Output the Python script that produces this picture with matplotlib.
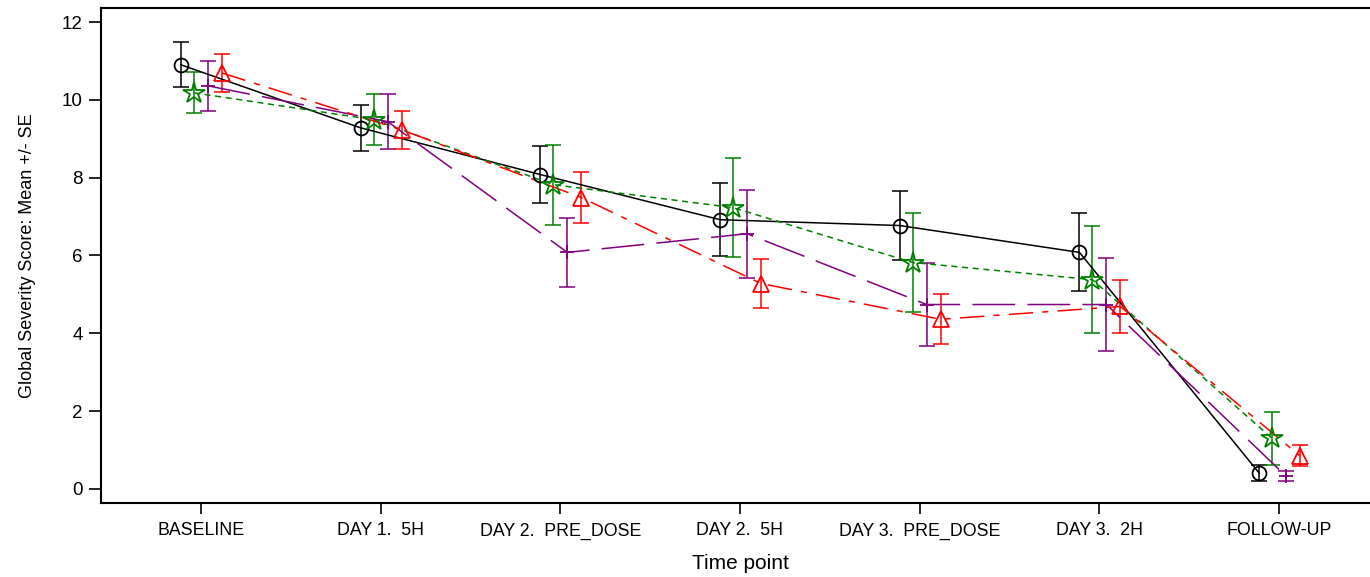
import numpy as np
import matplotlib as mpl
mpl.use('Agg')
import matplotlib.pyplot as plt

plt.rcParams['font.family'] = ['Liberation Sans', 'DejaVu Sans']

timepoints = ["BASELINE", "DAY 1.  5H", "DAY 2.  PRE_DOSE", "DAY 2.  5H",
              "DAY 3.  PRE_DOSE", "DAY 3.  2H", "FOLLOW-UP"]

# group means and standard errors
black_mean = [10.90, 9.28, 8.08, 6.92, 6.77, 6.08, 0.41]
black_se = [0.58, 0.60, 0.73, 0.94, 0.88, 1.00, 0.20]

green_mean = [10.18, 9.49, 7.82, 7.23, 5.82, 5.38, 1.30]
green_se = [0.53, 0.66, 1.03, 1.28, 1.28, 1.37, 0.68]

purple_mean = [10.36, 9.44, 6.08, 6.56, 4.74, 4.74, 0.33]
purple_se = [0.64, 0.70, 0.89, 1.13, 1.07, 1.20, 0.13]

red_mean = [10.69, 9.23, 7.49, 5.28, 4.36, 4.69, 0.85]
red_se = [0.49, 0.49, 0.65, 0.62, 0.64, 0.69, 0.27]

x = np.arange(len(timepoints))

fig = plt.figure(figsize=(13.7, 5.77), dpi=100)
ax = fig.add_axes([101/1370, 1-503/577, 1278/1370, 495/577])

series = [
    (black_mean, black_se, -0.111, 'black', 'o', '-', 10),
    (green_mean, green_se, -0.039, 'green', '*', (0, (4, 3)), 16),
    (purple_mean, purple_se, 0.039, 'purple', '+', (0, (28, 8)), 10),
    (red_mean, red_se, 0.117, 'red', '^', (0, (16, 6, 4, 6)), 11),
]

for mean, se, off, col, mk, ls, ms in series:
    xs = x + off
    ax.errorbar(xs, mean, yerr=se, fmt='none', ecolor=col, elinewidth=1.1,
                capsize=6, capthick=1.1, zorder=2)
    ax.plot(xs, mean, color=col, linestyle=ls, linewidth=1.1, zorder=3)
    if mk == '+':
        ax.plot(xs, mean, linestyle='none', marker=mk, markersize=ms,
                color=col, markeredgewidth=1.3, zorder=4)
    else:
        ax.plot(xs, mean, linestyle='none', marker=mk, markersize=ms,
                markerfacecolor='none', markeredgecolor=col,
                markeredgewidth=1.3, zorder=4)

ax.set_xlim(-0.556, 6.556)
ax.set_ylim(-0.36, 12.36)
ax.set_xticks(x)
ax.set_xticklabels(timepoints, fontsize=12.8)
ax.set_yticks(np.arange(0, 13, 2))
ax.tick_params(axis='y', labelsize=13.5, length=9, width=1.2, pad=4)
ax.tick_params(axis='x', length=8, width=1.2, pad=6)
for s in ax.spines.values():
    s.set_linewidth(1.5)

ax.set_xlabel('Time point', fontsize=15, labelpad=10)
ax.set_ylabel('Global Severity Score: Mean +/- SE', fontsize=13, labelpad=19)

plt.savefig('out.png', dpi=100)
